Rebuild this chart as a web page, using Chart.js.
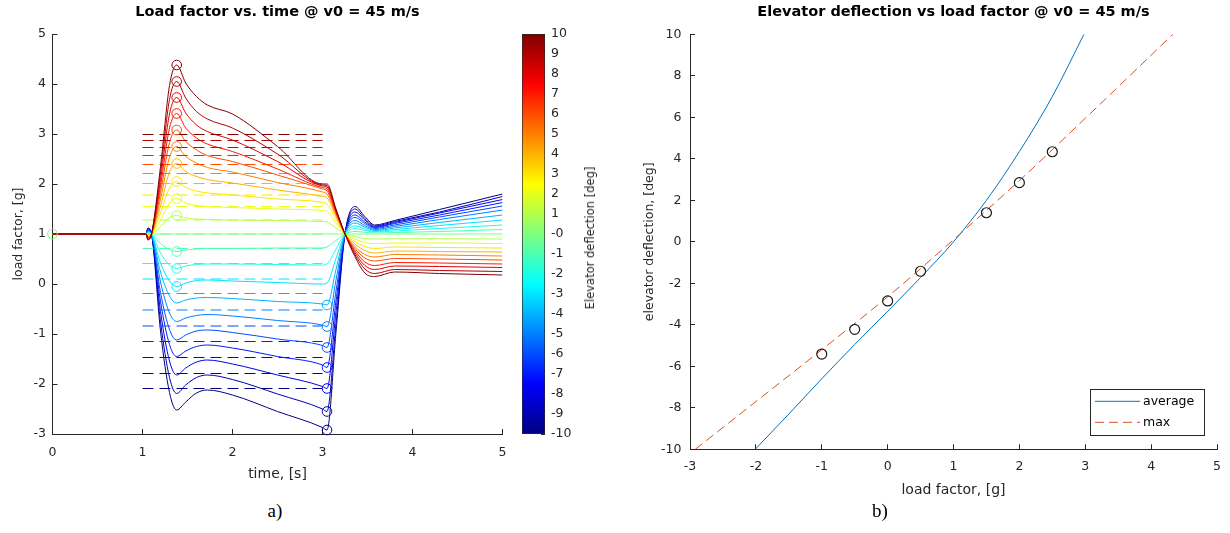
<!DOCTYPE html>
<html>
<head>
<meta charset="utf-8">
<title>Load factor / elevator deflection @ v0 = 45 m/s</title>
<script src="https://cdn.jsdelivr.net/npm/chart.js@4.4.1/dist/chart.umd.min.js"></script>
<style>
    body { margin: 0; background: #fff; }
    #page { position: relative; width: 1230px; height: 533px; overflow: hidden; background: #fff; }
    .box { position: absolute; top: 0; }
    #left-box { left: 0; width: 510px; height: 495px; }
    #bar-box { left: 510px; width: 110px; height: 495px; }
    #right-box { left: 620px; width: 610px; height: 510px; }
    .caption {
        position: absolute; top: 500px; transform: translateX(-50%);
        font-family: 'Liberation Serif', 'Times New Roman', serif; font-size: 19px; color: #000;
    }
    #bar-label {
        position: absolute; left: 590px; top: 238px;
        transform: translate(-50%, -50%) rotate(-90deg);
        white-space: nowrap; font-family: 'DejaVu Sans', sans-serif; font-size: 11.5px; color: #262626;
    }
</style>
</head>
<body>
<div id="page">
    <div class="box" id="left-box"><canvas id="left-chart"></canvas></div>
    <div class="box" id="bar-box"><canvas id="bar-chart"></canvas></div>
    <div class="box" id="right-box"><canvas id="right-chart"></canvas></div>
    <div id="bar-label">Elevator deflection [deg]</div>
    <div class="caption" style="left: 275px;">a)</div>
    <div class="caption" style="left: 880px;">b)</div>
</div>

<script>
// ---- Left plot: load factor vs. time, one run per elevator deflection ----

// Elevator deflection of each run [deg]
const deflection = [-10, -9, -8, -7, -6, -5, -4, -3, -2, -1, 0, 1, 2, 3, 4, 5, 6, 7, 8, 9, 10];

// Sample times [s]
const timeS = [0, 1.04, 1.06, 1.1, 1.2, 1.3, 1.38, 1.48, 1.6, 1.72, 2.0, 2.5, 3.0, 3.05, 3.15, 3.25, 3.36, 3.47, 3.58, 3.8, 4.3, 5.0];

// Load factor [g], one row per deflection (same order as above)
const loadFactor = [
    [1, 1, 1.12, 1, -0.94, -2.17, -2.52, -2.36, -2.18, -2.12, -2.22, -2.55, -2.87, -2.92, -0.96, 1, 1.55, 1.35, 1.18, 1.27, 1.49, 1.80],
    [1, 1, 1.11, 1, -0.75, -1.87, -2.19, -2.02, -1.87, -1.82, -1.91, -2.20, -2.50, -2.55, -0.78, 1, 1.50, 1.31, 1.16, 1.25, 1.44, 1.75],
    [1, 1, 1.10, 1, -0.55, -1.54, -1.82, -1.68, -1.56, -1.52, -1.60, -1.82, -2.05, -2.09, -0.55, 1, 1.44, 1.28, 1.14, 1.23, 1.42, 1.69],
    [1, 1, 1.08, 1, -0.35, -1.21, -1.45, -1.34, -1.25, -1.22, -1.28, -1.45, -1.62, -1.67, -0.34, 1, 1.38, 1.24, 1.13, 1.21, 1.38, 1.63],
    [1, 1, 1.07, 1, -0.17, -0.91, -1.12, -1.02, -0.94, -0.92, -0.97, -1.10, -1.23, -1.27, -0.14, 1, 1.33, 1.21, 1.11, 1.18, 1.34, 1.56],
    [1, 1, 1.06, 1, 0.04, -0.58, -0.75, -0.68, -0.63, -0.61, -0.64, -0.73, -0.82, -0.85, 0.08, 1, 1.27, 1.17, 1.09, 1.15, 1.29, 1.48],
    [1, 1, 1.05, 1, 0.24, -0.24, -0.38, -0.32, -0.28, -0.27, -0.29, -0.35, -0.40, -0.42, 0.29, 1, 1.22, 1.14, 1.07, 1.12, 1.23, 1.38],
    [1, 1, 1.04, 1, 0.42, 0.06, -0.05, 0.02, 0.07, 0.08, 0.06, 0.03, 0.00, 0.02, 0.51, 1, 1.16, 1.10, 1.05, 1.09, 1.17, 1.28],
    [1, 1, 1.02, 1, 0.62, 0.38, 0.31, 0.36, 0.39, 0.40, 0.40, 0.39, 0.38, 0.40, 0.70, 1, 1.11, 1.07, 1.04, 1.06, 1.11, 1.18],
    [1, 1, 1.01, 1, 0.81, 0.69, 0.65, 0.68, 0.70, 0.71, 0.71, 0.72, 0.72, 0.74, 0.87, 1, 1.05, 1.035, 1.02, 1.03, 1.05, 1.09],
    [1, 1, 1, 1, 1, 1, 1, 1, 1, 1, 1, 1, 1, 1, 1, 1, 1, 1, 1, 1, 1, 1],
    [1, 1, 0.99, 1, 1.15, 1.33, 1.37, 1.32, 1.30, 1.29, 1.28, 1.27, 1.25, 1.24, 1.12, 1, 0.95, 0.91, 0.90, 0.905, 0.905, 0.90],
    [1, 1, 0.98, 1, 1.28, 1.62, 1.71, 1.62, 1.57, 1.55, 1.53, 1.50, 1.47, 1.45, 1.22, 1, 0.90, 0.83, 0.81, 0.82, 0.82, 0.81],
    [1, 1, 0.96, 1, 1.42, 1.92, 2.05, 1.93, 1.86, 1.82, 1.78, 1.70, 1.63, 1.60, 1.29, 1, 0.85, 0.75, 0.71, 0.74, 0.73, 0.72],
    [1, 1, 0.95, 1, 1.56, 2.24, 2.41, 2.25, 2.15, 2.09, 2.02, 1.88, 1.75, 1.72, 1.35, 1, 0.80, 0.67, 0.62, 0.66, 0.65, 0.64],
    [1, 1, 0.94, 1, 1.70, 2.54, 2.75, 2.55, 2.42, 2.33, 2.24, 2.03, 1.84, 1.80, 1.39, 1, 0.75, 0.59, 0.54, 0.59, 0.58, 0.56],
    [1, 1, 0.93, 1, 1.83, 2.83, 3.08, 2.85, 2.68, 2.57, 2.45, 2.18, 1.90, 1.86, 1.42, 1, 0.71, 0.52, 0.46, 0.51, 0.50, 0.48],
    [1, 1, 0.92, 1, 1.96, 3.12, 3.41, 3.12, 2.92, 2.80, 2.65, 2.30, 1.93, 1.90, 1.44, 1, 0.67, 0.44, 0.37, 0.43, 0.42, 0.40],
    [1, 1, 0.90, 1, 2.09, 3.40, 3.73, 3.42, 3.18, 3.05, 2.88, 2.45, 1.96, 1.94, 1.46, 1, 0.63, 0.37, 0.29, 0.36, 0.35, 0.33],
    [1, 1, 0.89, 1, 2.22, 3.69, 4.05, 3.72, 3.45, 3.30, 3.12, 2.60, 1.98, 1.97, 1.48, 1, 0.59, 0.30, 0.21, 0.29, 0.27, 0.25],
    [1, 1, 0.88, 1, 2.35, 3.97, 4.38, 4.02, 3.75, 3.58, 3.40, 2.75, 2.00, 2.00, 1.50, 1, 0.55, 0.22, 0.15, 0.24, 0.21, 0.18]
];

// Average load factor of each run (dashed lines) and the time span they cover
const avgLevel = [-2.09, -1.79, -1.47, -1.15, -0.84, -0.52, -0.19, 0.10, 0.41, 0.71, 1.00, 1.28, 1.55, 1.78, 2.01, 2.21, 2.39, 2.57, 2.73, 2.87, 2.99];
const avgSpan = [1.0, 3.0];

// Extreme value of each run (circles)
const peakTime = [3.05, 3.05, 3.05, 3.05, 3.05, 3.05, 3.05, 1.38, 1.38, 1.38, 0, 1.38, 1.38, 1.38, 1.38, 1.38, 1.38, 1.38, 1.38, 1.38, 1.38];
const peakLoad = [-2.92, -2.55, -2.09, -1.67, -1.27, -0.85, -0.42, -0.05, 0.31, 0.65, 1.00, 1.37, 1.71, 2.05, 2.41, 2.75, 3.08, 3.41, 3.73, 4.05, 4.38];

// ---- Right plot: elevator deflection vs. load factor ----
const averageLoad = [-2.01, -1.5, -1.0, -0.5, 0, 0.5, 1.0, 1.5, 2.0, 2.5, 2.98];
const averageDefl = [-10, -8.3, -6.6, -4.95, -3.35, -1.72, 0.0, 2.0, 4.35, 7.0, 10];
const maxLoad = [-2.92, -2.0, -1.0, 0, 1.0, 2.0, 3.0, 4.33];
const maxDefl = [-10, -7.7, -5.2, -2.65, 0.1, 2.95, 5.95, 10];
const pointLoad = [-1, -0.5, 0, 0.5, 1.5, 2, 2.5];
const pointDefl = [-5.41, -4.22, -2.85, -1.42, 1.40, 2.85, 4.34];

// ---- Styling ----
const AXIS = '#262626';
Chart.defaults.font.family = "'DejaVu Sans', sans-serif";
Chart.defaults.color = AXIS;

// MATLAB "jet" colour for a deflection in [-10, 10]
function jet(d) {
    const v = (d + 10) / 20;
    const c = k => Math.round(255 * Math.max(0, Math.min(1, 1.5 - Math.abs(4 * v - k))));
    return `rgb(${c(3)}, ${c(2)}, ${c(1)})`;
}

// Linear axis with inward tick marks and no grid, like the MATLAB plots
function axis(min, max, step, pad, title, titlePad, size, fitSize) {
    return {
        type: 'linear',
        min: min,
        max: max,
        ticks: { stepSize: step, padding: pad, color: AXIS, font: { size: 12.5 } },
        grid: { drawOnChartArea: false, drawTicks: true, tickLength: -5, color: AXIS },
        border: { display: true, color: AXIS, width: 1 },
        title: { display: true, text: title, color: AXIS, padding: titlePad, font: { size: size } },
        afterFit: scale => {
            // fixed axis band; end labels must not shrink the plot area
            if (scale.isHorizontal()) {
                scale.height = fitSize;
                scale.paddingLeft = 0;
                scale.paddingRight = 0;
            } else {
                scale.width = fitSize;
            }
        }
    };
}

function xy(xs, ys) {
    return xs.map((x, i) => ({ x: x, y: ys[i] }));
}

// Left chart datasets
const curveSets = deflection.map((d, i) => ({
    label: 'deflection ' + d,
    data: xy(timeS, loadFactor[i]),
    borderColor: jet(d),
    borderWidth: 1,
    pointRadius: 0,
    cubicInterpolationMode: 'monotone',
    order: 40 - i
}));

const avgSets = deflection.map((d, i) => ({
    label: 'average ' + d,
    data: avgSpan.map(t => ({ x: t, y: avgLevel[i] })),
    borderColor: jet(d),
    borderWidth: 1,
    borderDash: [11, 6],
    pointRadius: 0,
    order: 39.5 - i
}));

const peakSet = {
    label: 'extreme',
    data: xy(peakTime, peakLoad),
    showLine: false,
    pointRadius: 4.8,
    pointBorderWidth: 1,
    pointBackgroundColor: 'rgba(0,0,0,0)',
    pointBorderColor: deflection.map(jet),
    clip: false,
    order: 0
};

new Chart(document.getElementById('left-chart'), {
    type: 'line',
    data: { datasets: [...curveSets, ...avgSets, peakSet] },
    options: {
        responsive: true,
        maintainAspectRatio: false,
        animation: false,
        events: [],
        layout: { padding: { left: 0, right: 7.5, top: 0, bottom: 0 } },
        plugins: {
            legend: { display: false },
            tooltip: { enabled: false },
            title: {
                display: true,
                text: 'Load factor vs. time @ v0 = 45 m/s',
                fullSize: false,
                color: '#000',
                font: { size: 14.5, weight: 'bold' },
                padding: { top: 4, bottom: 12.6 }
            }
        },
        scales: {
            x: axis(0, 5, 1, 16.5, 'time, [s]', { top: 0, bottom: 12.6 }, 14, 61),
            y: axis(-3, 5, 1, 11.5, 'load factor, [g]', { top: 11, bottom: 0 }, 12.5, 52.5)
        }
    }
});

// Colour bar: one floating bar from -10 to 10 filled with the jet ramp
function jetGradient(context) {
    const area = context.chart.chartArea;
    if (!area) return null;
    const g = context.chart.ctx.createLinearGradient(0, area.bottom, 0, area.top);
    g.addColorStop(0, '#000080');
    g.addColorStop(0.125, '#0000ff');
    g.addColorStop(0.375, '#00ffff');
    g.addColorStop(0.625, '#ffff00');
    g.addColorStop(0.875, '#ff0000');
    g.addColorStop(1, '#800000');
    return g;
}

new Chart(document.getElementById('bar-chart'), {
    type: 'bar',
    data: {
        labels: [''],
        datasets: [{
            data: [[-10, 10]],
            backgroundColor: jetGradient,
            borderColor: AXIS,
            borderWidth: 1,
            borderSkipped: false,
            barPercentage: 1,
            categoryPercentage: 1
        }]
    },
    options: {
        responsive: true,
        maintainAspectRatio: false,
        animation: false,
        events: [],
        layout: { padding: { left: 12, right: 0, top: 34, bottom: 61 } },
        plugins: { legend: { display: false }, tooltip: { enabled: false } },
        scales: {
            x: { display: false },
            y: {
                position: 'right',
                min: -10,
                max: 10,
                ticks: {
                    stepSize: 1,
                    padding: 10,
                    color: AXIS,
                    font: { size: 12.5 },
                    callback: v => (v === 0 ? '-0' : String(v))
                },
                grid: { drawOnChartArea: false, drawTicks: true, tickLength: -4, color: AXIS },
                border: { display: false },
                afterFit: scale => { scale.width = 75; }
            }
        }
    }
});

// Legend drawn inside the plot area, bottom right (MATLAB style)
const insideLegend = {
    id: 'insideLegend',
    afterDatasetsDraw(chart) {
        const { ctx, chartArea } = chart;
        const w = 114, h = 46;
        const x0 = chartArea.right - 13 - w;
        const y0 = chartArea.bottom - 14 - h;
        ctx.save();
        ctx.fillStyle = '#fff';
        ctx.fillRect(x0, y0, w, h);
        ctx.strokeStyle = AXIS;
        ctx.lineWidth = 1;
        ctx.strokeRect(Math.round(x0) + 0.5, Math.round(y0) + 0.5, w, h);
        ctx.font = "12.5px 'DejaVu Sans', sans-serif";
        ctx.textBaseline = 'middle';
        chart.data.datasets.slice(0, 2).forEach((ds, i) => {
            const y = y0 + 12 + i * 21;
            ctx.strokeStyle = ds.borderColor;
            ctx.lineWidth = ds.borderWidth;
            ctx.setLineDash(ds.borderDash || []);
            ctx.beginPath();
            ctx.moveTo(x0 + 5, y);
            ctx.lineTo(x0 + 50, y);
            ctx.stroke();
            ctx.setLineDash([]);
            ctx.fillStyle = '#000';
            ctx.fillText(ds.label, x0 + 53, y);
        });
        ctx.restore();
    }
};

new Chart(document.getElementById('right-chart'), {
    type: 'line',
    data: {
        datasets: [
            {
                label: 'average',
                data: xy(averageLoad, averageDefl),
                borderColor: '#0072BD',
                borderWidth: 1,
                pointRadius: 0,
                cubicInterpolationMode: 'monotone'
            },
            {
                label: 'max',
                data: xy(maxLoad, maxDefl),
                borderColor: '#D95319',
                borderWidth: 1,
                borderDash: [9, 5],
                pointRadius: 0,
                cubicInterpolationMode: 'monotone'
            },
            {
                label: 'tests',
                data: xy(pointLoad, pointDefl),
                showLine: false,
                pointRadius: 5,
                pointBorderWidth: 1.2,
                pointBorderColor: '#1a1a1a',
                pointBackgroundColor: 'rgba(0,0,0,0)',
                order: -1
            }
        ]
    },
    options: {
        responsive: true,
        maintainAspectRatio: false,
        animation: false,
        events: [],
        layout: { padding: { left: 0, right: 13, top: 0, bottom: 0 } },
        plugins: {
            legend: { display: false },
            tooltip: { enabled: false },
            title: {
                display: true,
                text: 'Elevator deflection vs load factor @ v0 = 45 m/s',
                fullSize: false,
                color: '#000',
                font: { size: 14.5, weight: 'bold' },
                padding: { top: 4, bottom: 12.9 }
            }
        },
        scales: {
            x: axis(-3, 5, 1, 15.2, 'load factor, [g]', { top: 0, bottom: 11.6 }, 14, 60.7),
            y: axis(-10, 10, 2, 13.5, 'elevator deflection, [deg]', { top: 22.5, bottom: 0 }, 12.5, 70)
        }
    },
    plugins: [insideLegend]
});
</script>
</body>
</html>
